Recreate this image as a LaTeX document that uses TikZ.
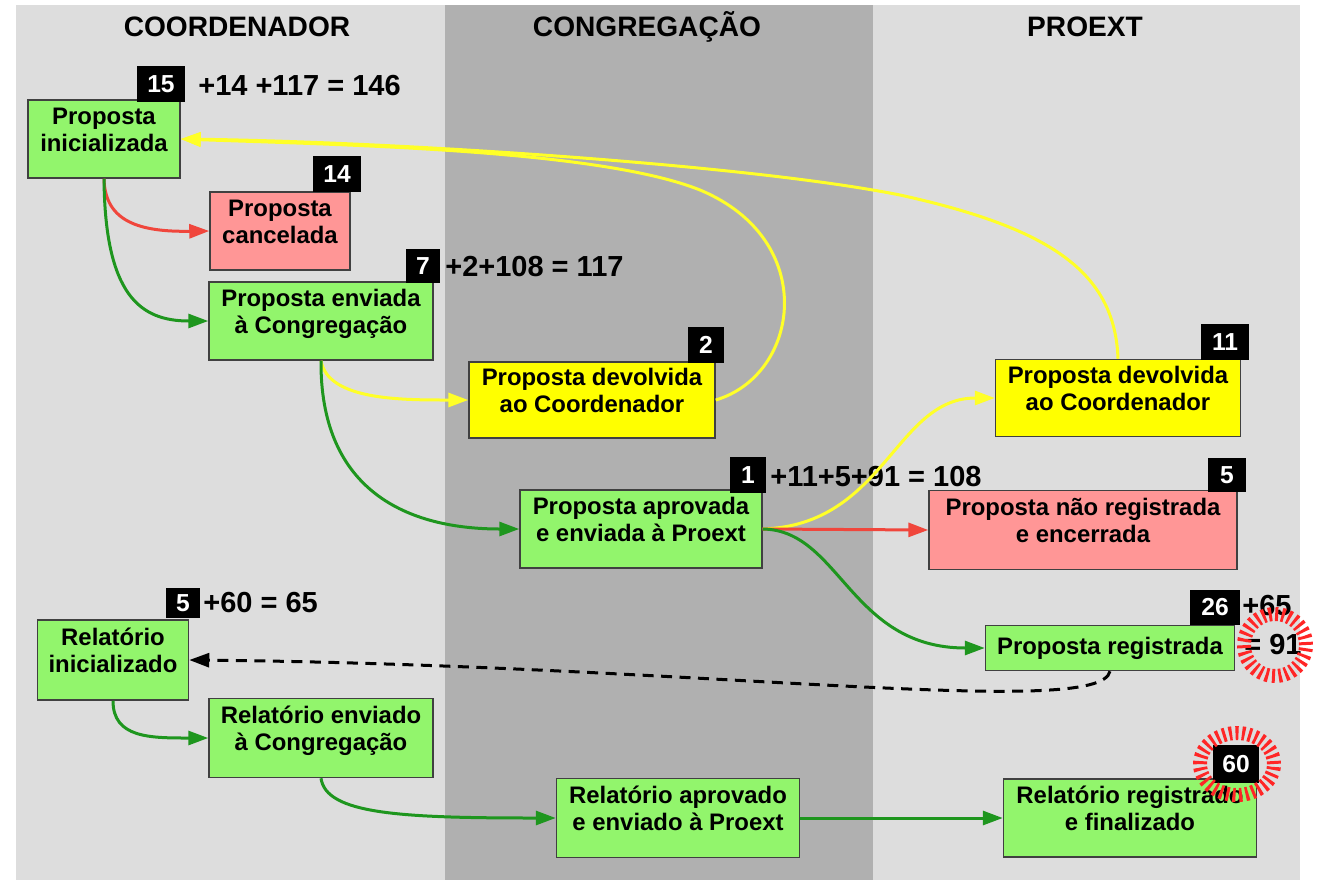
\documentclass[tikz,border=0pt]{standalone}
\usepackage{fontspec}
\setmainfont{Liberation Sans}
\usetikzlibrary{arrows.meta}
\definecolor{lanelight}{RGB}{221,221,221}
\definecolor{lanedark}{RGB}{176,176,176}
\definecolor{boxgreen}{RGB}{146,245,108}
\definecolor{boxred}{RGB}{255,150,150}
\definecolor{boxyellow}{RGB}{255,255,0}
\definecolor{linegreen}{RGB}{30,150,30}
\definecolor{linered}{RGB}{240,70,60}
\definecolor{lineyellow}{RGB}{255,255,40}
\tikzset{
	etapa/.style={draw=black!75, line width=0.3mm, align=center, inner sep=0pt, font=\bfseries\fontsize{13.6}{15.5}\selectfont},
	duas/.style={text depth=0.38cm},
	badge/.style={fill=black, text=white, inner sep=0pt, font=\bfseries\fontsize{14}{16}\selectfont},
	conta/.style={anchor=west, inner sep=0pt, font=\bfseries\fontsize{16.5}{18}\selectfont},
	raia/.style={font=\bfseries\fontsize{16}{18}\selectfont},
	seta/.style={line width=0.6mm, -{Triangle[length=4mm, width=2.8mm]}},
	destaque/.style={draw=red!85!white, line width=0.28cm, dash pattern=on 1.7pt off 2pt}
}

\begin{document}
\begin{tikzpicture}[x=0.02cm, y=-0.02cm]
			%%%%% START %%%%%
			\useasboundingbox (0, 0) rectangle (1318, 883);
			
			\fill[lanelight] (16, 5) rectangle (445, 880);
			\fill[lanedark] (445, 5) rectangle (873, 880);
			\fill[lanelight] (873, 5) rectangle (1300, 880);
			
			\node[raia] (coord) at (237, 27) {COORDENADOR};
			\node[raia] (congr) at (647, 27) {CONGREGAÇÃO};
			\node[raia] (proext) at (1085, 27) {PROEXT};
			
			% proposta
			\node[etapa, duas, fill=boxgreen, minimum width=3.04cm, minimum height=1.56cm] (inic) at (104, 139) {Proposta\\inicializada};
			\node[etapa, duas, fill=boxred, minimum width=2.8cm, minimum height=1.56cm] (canc) at (280, 231) {Proposta\\cancelada};
			\node[etapa, duas, fill=boxgreen, minimum width=4.48cm, minimum height=1.56cm] (envC) at (321, 321) {Proposta enviada\\à Congregação};
			\node[etapa, duas, fill=boxyellow, minimum width=4.92cm, minimum height=1.52cm] (devC) at (592, 400) {Proposta devolvida\\ao Coordenador};
			\node[etapa, duas, fill=boxgreen, minimum width=4.84cm, minimum height=1.56cm] (aprov) at (641, 529) {Proposta aprovada\\e enviada à Proext};
			\node[etapa, duas, fill=boxyellow, minimum width=4.9cm, minimum height=1.54cm] (devP) at (1118, 398) {Proposta devolvida\\ao Coordenador};
			\node[etapa, duas, fill=boxred, minimum width=6.16cm, minimum height=1.58cm] (naoreg) at (1083, 530) {Proposta não registrada\\e encerrada};
			\node[etapa, fill=boxgreen, minimum width=4.98cm, minimum height=0.9cm] (reg) at (1110, 648) {Proposta registrada};
			
			% relatorio
			\node[etapa, duas, fill=boxgreen, minimum width=3.02cm, minimum height=1.6cm] (relinic) at (113, 660) {Relatório\\inicializado};
			\node[etapa, duas, fill=boxgreen, minimum width=4.48cm, minimum height=1.58cm] (relenv) at (321, 738) {Relatório enviado\\à Congregação};
			\node[etapa, duas, fill=boxgreen, minimum width=4.86cm, minimum height=1.58cm] (relaprov) at (678, 818) {Relatório aprovado\\e enviado à Proext};
			\node[etapa, duas, fill=boxgreen, minimum width=5.06cm, minimum height=1.56cm] (relreg) at (1130, 818) {Relatório registrado\\e finalizado};
			
			% contagens
			\node[badge, minimum width=0.96cm, minimum height=0.72cm] (b15) at (161, 84) {15};
			\node[badge, minimum width=0.96cm, minimum height=0.72cm] (b14) at (337, 174) {14};
			\node[badge, minimum width=0.68cm, minimum height=0.68cm] (b7) at (423, 266) {7};
			\node[badge, minimum width=0.72cm, minimum height=0.72cm] (b2) at (706, 345) {2};
			\node[badge, minimum width=0.72cm, minimum height=0.72cm] (b1) at (748, 475) {1};
			\node[badge, minimum width=0.96cm, minimum height=0.72cm] (b11) at (1225, 342) {11};
			\node[badge, minimum width=0.76cm, minimum height=0.68cm] (b5a) at (1227, 475) {5};
			\node[badge, minimum width=1.0cm, minimum height=0.7cm] (b26) at (1215, 607) {26};
			\node[badge, minimum width=0.7cm, minimum height=0.6cm] (b5b) at (183, 603) {5};
			\node[badge, minimum width=0.92cm, minimum height=0.76cm] (b60) at (1236, 764) {60};
			
			\node[conta] (s15) at (198, 86) {+14 +117 = 146};
			\node[conta] (s7) at (445, 267) {+2+108 = 117};
			\node[conta] (s1) at (770, 477) {+11+5+91 = 108};
			\node[conta] (s26) at (1242, 606) {+65};
			\node[conta] (t26) at (1244, 645) {= 91};
			\node[conta] (s5) at (203, 603) {+60 = 65};
			
			% fluxo da proposta
			\draw[seta, linered] (inic.south) .. controls (105, 222) and (140, 232) .. (canc.west);
			\draw[seta, linegreen] (inic.south) .. controls (105, 295) and (140, 321) .. (envC.west);
			\draw[seta, lineyellow] (envC.south) .. controls (328, 400) and (400, 400) .. (devC.west);
			\draw[seta, linegreen] (envC.south) .. controls (320, 485) and (400, 529) .. (aprov.west);
			\draw[seta, lineyellow] (devC.east) .. controls (800, 375) and (820, 240) .. (700, 190) .. controls (600, 150) and (350, 145) .. (inic.east);
			\draw[seta, lineyellow] (devP.north) .. controls (1115, 272) and (1050, 228) .. (900, 195) .. controls (750, 165) and (400, 142) .. (inic.east);
			\draw[seta, lineyellow] (aprov.east) .. controls (885, 525) and (895, 398) .. (devP.west);
			\draw[seta, linered] (aprov.east) -- (naoreg.west);
			\draw[seta, linegreen] (aprov.east) .. controls (840, 530) and (850, 648) .. (reg.west);
			\draw[seta, black, dash pattern=on 2.2mm off 1.5mm] (reg.south) .. controls (1100, 720) and (700, 665) .. (relinic.east);
			
			% fluxo do relatorio
			\draw[seta, linegreen] (relinic.south) .. controls (113, 738) and (150, 738) .. (relenv.west);
			\draw[seta, linegreen] (relenv.south) .. controls (326, 814) and (400, 818) .. (relaprov.west);
			\draw[seta, linegreen] (relaprov.east) -- (relreg.west);
			
			\draw[destaque] (1275, 645) circle [radius=0.62cm];
			\draw[destaque] (1237, 764) ellipse [x radius=0.74cm, y radius=0.62cm];
			
			%%%%% END %%%%%
		\end{tikzpicture}
\end{document}
